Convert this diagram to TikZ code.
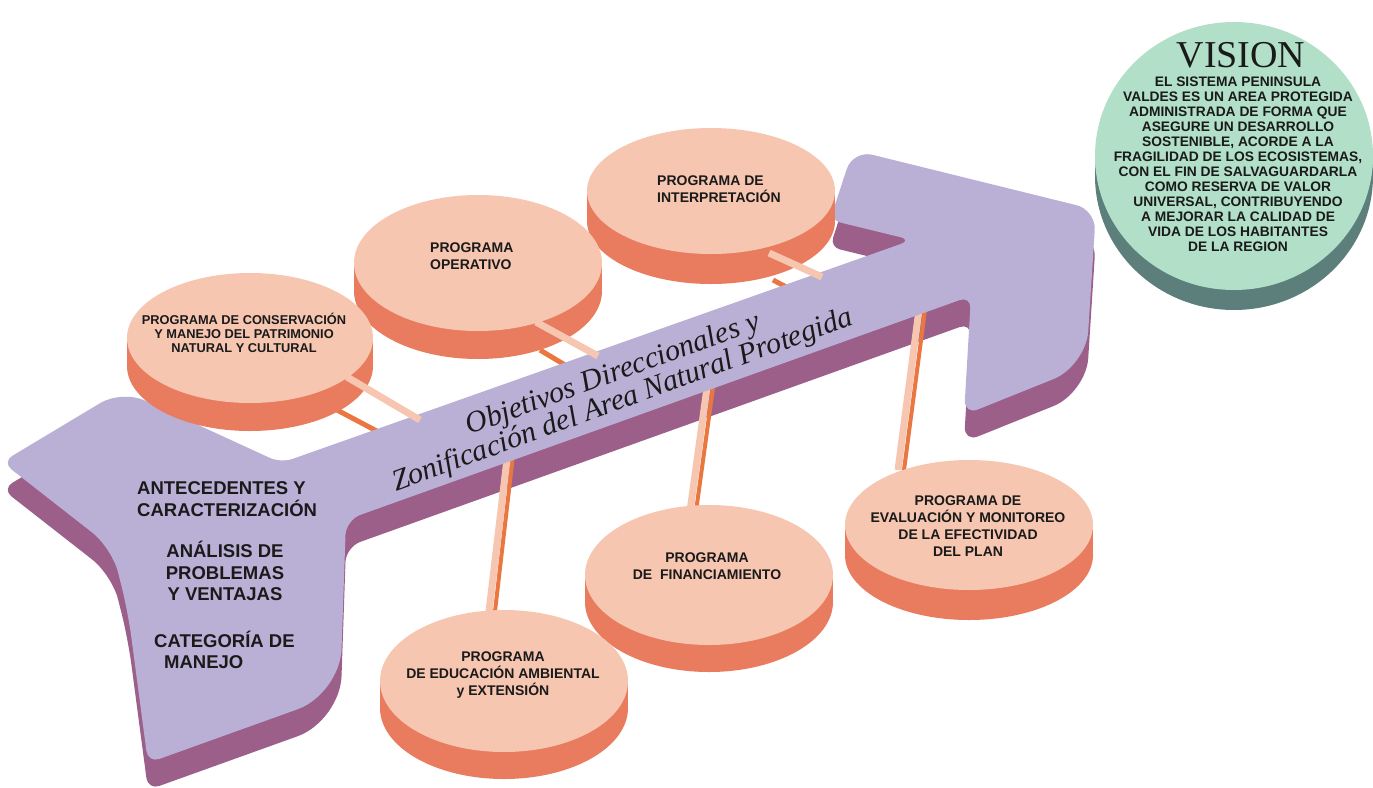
\documentclass[tikz,border=0pt]{standalone}
\usepackage{fontspec}
\setmainfont{Liberation Serif}
\setsansfont{Liberation Sans}
\definecolor{lav}{HTML}{BAB0D5}
\definecolor{purp}{HTML}{9B5F8A}
\definecolor{peach}{HTML}{F6C6B1}
\definecolor{coralc}{HTML}{E97B5E}
\definecolor{stickc}{HTML}{E9773F}
\definecolor{mint}{HTML}{B2DFC8}
\definecolor{tealc}{HTML}{5C7F7C}
\definecolor{ink}{HTML}{1A1A1A}
\newcommand\mydisc[5]{%
  \fill[coralc] (#1,#2+#5) ellipse [x radius=#3pt, y radius=#4pt];
  \fill[coralc] (#1-#3,#2) rectangle (#1+#3,#2+#5);
  \fill[peach] (#1,#2) ellipse [x radius=#3pt, y radius=#4pt];}
\begin{document}
\begin{tikzpicture}[x=1pt,y=-1pt,
  prog/.style={font=\fontsize{14}{17}\selectfont\sffamily\bfseries, text=ink, align=center, inner sep=0pt},
  tail/.style={font=\fontsize{18.5}{21.5}\selectfont\sffamily\bfseries, text=ink, inner sep=0pt},
  stickline/.style={stickc, line width=5pt},
  peachline/.style={peach, line width=7pt},
  postside/.style={stickc, line width=4pt}]
\useasboundingbox (0,0) rectangle (1373,787);

% ---- vision disc
\fill[tealc] (1234,176) ellipse [x radius=139pt, y radius=134pt];
\fill[mint] (1234,156) ellipse [x radius=139pt, y radius=134pt];
\node[font=\fontsize{38}{38}\selectfont, text=ink, inner sep=0pt] (vt) at (1241,55) {VISION};
\node[font=\fontsize{13.8}{15}\selectfont\sffamily\bfseries, text=ink, align=center, inner sep=0pt] (vb) at (1238,164) {EL SISTEMA PENINSULA\\VALDES ES UN AREA PROTEGIDA\\ADMINISTRADA DE FORMA QUE\\ASEGURE UN DESARROLLO\\SOSTENIBLE, ACORDE A LA\\FRAGILIDAD DE LOS ECOSISTEMAS,\\CON EL FIN DE SALVAGUARDARLA\\COMO RESERVA DE VALOR\\UNIVERSAL, CONTRIBUYENDO\\A MEJORAR LA CALIDAD DE\\VIDA DE LOS HABITANTES\\DE LA REGION};

% ---- shadow of the arrow
\fill[purp, yshift=-27pt, rounded corners=12pt]
 (57,505) -- (2,462) [rounded corners=25pt]-- (122,390) [rounded corners=12pt]-- (281,463) -- (912,240)
 [rounded corners=10pt]-- (830,220) [rounded corners=20pt]-- (853,150) -- (1096,210)
 [rounded corners=35pt]-- (1086,366) [rounded corners=15pt]-- (964,415) [rounded corners=12pt]-- (971,296)
 [rounded corners=15pt]-- (346,520) [rounded corners=45pt]-- (340,694) [rounded corners=12pt]-- (148,763)
 [rounded corners=25pt]-- (128,612) -- (112,548) -- cycle;

% ---- hidden parts of connectors
\coordinate (c1a) at (337,410); \coordinate (c1b) at (388,437);
\coordinate (c2a) at (540,350); \coordinate (c2b) at (570,368);
\coordinate (c3a) at (773,280); \coordinate (c3b) at (792,290);
\draw[stickline] (c1a) -- (c1b);
\draw[stickline] (c2a) -- (c2b);
\draw[stickline] (c3a) -- (c3b);
\coordinate (q4a) at (513,455); \coordinate (q4b) at (494,620);
\coordinate (p4a) at (507.5,455); \coordinate (p4b) at (488,620);
\coordinate (q5a) at (713.5,384); \coordinate (q5b) at (695.5,515);
\coordinate (p5a) at (707.5,384); \coordinate (p5b) at (689.5,515);
\coordinate (q6a) at (925.5,306); \coordinate (q6b) at (904,470);
\coordinate (p6a) at (919.5,306); \coordinate (p6b) at (898,470);
\draw[postside] (q4a) -- (q4b); \draw[peachline] (p4a) -- (p4b);
\draw[postside] (q5a) -- (q5b); \draw[peachline] (p5a) -- (p5b);
\draw[postside] (q6a) -- (q6b); \draw[peachline] (p6a) -- (p6b);

% ---- top face of the arrow
\fill[lav, rounded corners=12pt]
 (57,505) -- (2,462) [rounded corners=25pt]-- (122,390) [rounded corners=12pt]-- (281,463) -- (912,240)
 [rounded corners=10pt]-- (830,220) [rounded corners=20pt]-- (853,150) -- (1096,210)
 [rounded corners=35pt]-- (1086,366) [rounded corners=15pt]-- (964,415) [rounded corners=12pt]-- (971,296)
 [rounded corners=15pt]-- (346,520) [rounded corners=45pt]-- (340,694) [rounded corners=12pt]-- (148,763)
 [rounded corners=25pt]-- (128,612) -- (112,548) -- cycle;

\node[font=\fontsize{30}{28}\selectfont\itshape, text=ink, align=center, rotate=20, inner sep=0pt] (obj) at (618,388)
 {Objetivos Direccionales y\\Zonificación del Area Natural Protegida};

% ---- tail texts
\node[tail, align=left, anchor=west] (ant) at (137,499) {ANTECEDENTES Y\\CARACTERIZACIÓN};
\node[tail, align=center] (ana) at (225,571) {ANÁLISIS DE\\PROBLEMAS\\Y VENTAJAS};
\node[tail, anchor=base west] (cat) at (154,647) {CATEGORÍA DE};
\node[tail, anchor=base west] (man) at (164,668) {MANEJO};

% ---- upper discs
\mydisc{711}{191}{124}{63}{30}
\mydisc{478}{263}{124}{68}{28}
\mydisc{250}{338}{123}{65}{28}
\node[prog, align=left, anchor=west] (e3) at (657,189.5) {PROGRAMA DE\\INTERPRETACIÓN};
\node[prog, align=left, anchor=west] (e2) at (430,256.5) {PROGRAMA\\OPERATIVO};
\node[prog, font=\fontsize{12.8}{14}\selectfont\sffamily\bfseries] (e1) at (244,333) {PROGRAMA DE CONSERVACIÓN\\Y MANEJO DEL PATRIMONIO\\NATURAL Y CULTURAL};

% ---- visible upper connectors
\coordinate (s1a) at (347,377); \coordinate (s1b) at (420,420);
\coordinate (s2a) at (536,322); \coordinate (s2b) at (598,356);
\coordinate (s3a) at (769,253); \coordinate (s3b) at (822,277);
\draw[peachline] (s1a) -- (s1b);
\draw[peachline] (s2a) -- (s2b);
\draw[peachline] (s3a) -- (s3b);

% ---- lower discs
\mydisc{969}{525}{124}{65}{30}
\mydisc{709}{575}{124}{70}{27}
\mydisc{504}{681}{124}{71}{27}
\node[prog] (e6) at (968,526.5) {PROGRAMA DE\\EVALUACIÓN Y MONITOREO\\DE LA EFECTIVIDAD\\DEL PLAN};
\node[prog] (e5) at (707,566.5) {PROGRAMA\\DE\ \ FINANCIAMIENTO};
\node[prog] (e4) at (503,675) {PROGRAMA\\DE EDUCACIÓN AMBIENTAL\\y EXTENSIÓN};
\end{tikzpicture}
\end{document}
